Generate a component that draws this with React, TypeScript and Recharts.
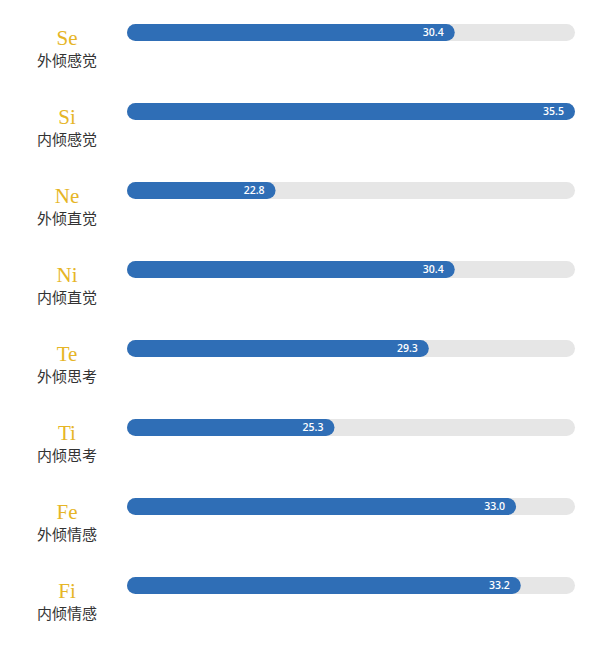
import { BarChart, Bar, XAxis, YAxis, LabelList } from 'recharts'

const codes = ['Se', 'Si', 'Ne', 'Ni', 'Te', 'Ti', 'Fe', 'Fi']
const names = ['外倾感觉', '内倾感觉', '外倾直觉', '内倾直觉', '外倾思考', '内倾思考', '外倾情感', '内倾情感']
const scores = [30.4, 35.5, 22.8, 30.4, 29.3, 25.3, 33.0, 33.2]

const data = codes.map((code, i) => ({ code, name: names[i], score: scores[i] }))

function FunctionTick({ x, y, payload }: any) {
  const i = codes.indexOf(payload.value)
  const cx = x - 52
  return (
    <g>
      <text
        x={cx}
        y={y}
        dy={12.5}
        textAnchor="middle"
        fill="#e6b526"
        fontSize={21}
        fontFamily="'Liberation Serif', 'DejaVu Serif', serif"
      >
        {payload.value}
      </text>
      <text
        x={cx}
        y={y}
        dy={33}
        textAnchor="middle"
        fill="#333333"
        fontSize={15}
        fontFamily="'Noto Sans CJK SC', sans-serif"
      >
        {names[i]}
      </text>
    </g>
  )
}

function ValueLabel({ x, y, width, height, value }: any) {
  return (
    <text
      x={x + width - 11}
      y={y + height / 2}
      dy={3.8}
      textAnchor="end"
      fill="#ffffff"
      fontSize={10.5}
      fontWeight={600}
      fontFamily="'Open Sans', sans-serif"
    >
      {Number(value).toFixed(1)}
    </text>
  )
}

export default function App() {
  return (
    <BarChart
      width={595}
      height={644}
      data={data}
      layout="vertical"
      margin={{ top: -15, right: 28, bottom: 27, left: 0 }}
      barCategoryGap={0}
    >
      <XAxis type="number" domain={[16.5, 35.5]} allowDataOverflow hide />
      <YAxis
        type="category"
        dataKey="code"
        width={119}
        axisLine={false}
        tickLine={false}
        tick={<FunctionTick />}
        interval={0}
      />
      <Bar
        dataKey="score"
        fill="#2f6eb6"
        barSize={17}
        radius={8.5}
        background={{ fill: '#e6e6e6', radius: 8.5 }}
        isAnimationActive={false}
      >
        <LabelList dataKey="score" content={<ValueLabel />} />
      </Bar>
    </BarChart>
  )
}
